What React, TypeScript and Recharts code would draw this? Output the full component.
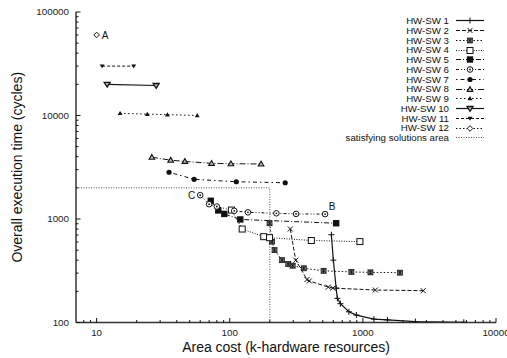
import React from 'react';
import { LineChart, Line, XAxis, YAxis, Legend, ReferenceDot } from 'recharts';

// [area cost, execution time] pairs
const hwsw1 = [[580, 705], [600, 400], [630, 215], [643, 171], [678, 152], [785, 127], [894, 118], [1210, 108], [1530, 106], [2480, 102], [5730, 100.5]];
const hwsw2 = [[285, 800], [313, 400], [380, 260], [396, 252], [550, 220], [595, 215], [1240, 206], [2840, 203]];
const hwsw3 = [[199, 910], [208, 605], [217, 500], [247, 400], [275, 367], [297, 354], [360, 334], [507, 316], [820, 308], [1140, 305], [1900, 303]];
const hwsw4 = [[103, 1220], [124, 800], [180, 675], [199, 660], [410, 620], [950, 605]];
const hwsw5 = [[72, 1500], [82, 1210], [91, 1120], [120, 990], [630, 910]];
const hwsw6 = [[60, 1700], [70, 1390], [80, 1320], [108, 1200], [137, 1160], [224, 1135], [315, 1120], [520, 1115]];
const hwsw7 = [[35, 2830], [54, 2420], [112, 2290], [261, 2240]];
const hwsw8 = [[26, 3950], [36, 3700], [46, 3600], [73, 3450], [102, 3420], [172, 3400]];
const hwsw9 = [[15, 10500], [24, 10300], [34, 10200], [57, 10000]];
const hwsw10 = [[12, 20000], [28, 19500]];
const hwsw11 = [[11, 30000], [19, 30000]];
const hwsw12 = [[10, 60000]];
const satisfyingArea = [[7, 2000], [200, 2000], [200, 100]];

const notes = [
  { text: 'A', x: 10, y: 60000 },
  { text: 'B', x: 520, y: 1115 },
  { text: 'C', x: 60, y: 1700 },
];

const xDomain = [7, 10000];
const yDomain = [100, 100000];
const xTicks = [8, 9, 10, 20, 30, 40, 50, 60, 70, 80, 90, 100, 200, 300, 400, 500, 600, 700, 800, 900, 1000, 2000, 3000, 4000, 5000, 6000, 7000, 8000, 9000, 10000];
const yTicks = [100, 200, 300, 400, 500, 600, 700, 800, 900, 1000, 2000, 3000, 4000, 5000, 6000, 7000, 8000, 9000, 10000, 20000, 30000, 40000, 50000, 60000, 70000, 80000, 90000, 100000];

const INK = '#111';
const FONT = '"Liberation Sans", Arial, Helvetica, sans-serif';

const series = [
  { name: 'HW-SW 1', data: hwsw1, marker: 'plus', dash: undefined, width: 1.2 },
  { name: 'HW-SW 2', data: hwsw2, marker: 'cross', dash: '4 2', width: 1 },
  { name: 'HW-SW 3', data: hwsw3, marker: 'star', dash: '1.5 2', width: 1 },
  { name: 'HW-SW 4', data: hwsw4, marker: 'box', dash: '1 1.5', width: 1 },
  { name: 'HW-SW 5', data: hwsw5, marker: 'boxFilled', dash: '5 2 1 2', width: 1 },
  { name: 'HW-SW 6', data: hwsw6, marker: 'circleDot', dash: '3 2 1 2 1 2', width: 1 },
  { name: 'HW-SW 7', data: hwsw7, marker: 'circleFilled', dash: '1.5 3 4 3', width: 1 },
  { name: 'HW-SW 8', data: hwsw8, marker: 'triangle', dash: '6 2 1 2', width: 1 },
  { name: 'HW-SW 9', data: hwsw9, marker: 'triangleSmall', dash: '1.5 2.5', width: 1 },
  { name: 'HW-SW 10', data: hwsw10, marker: 'triangleDown', dash: undefined, width: 1.2 },
  { name: 'HW-SW 11', data: hwsw11, marker: 'triangleDownSmall', dash: '3 2', width: 1 },
  { name: 'HW-SW 12', data: hwsw12, marker: 'diamond', dash: '1.5 2', width: 1 },
  { name: 'satisfying solutions area', data: satisfyingArea, marker: null, dash: '1 1.5', width: 1 },
];

function Marker({ kind, cx, cy }: { kind: string; cx: number; cy: number }) {
  switch (kind) {
    case 'plus':
      return <path d={`M${cx - 3},${cy}h6M${cx},${cy - 3}v6`} stroke={INK} strokeWidth={1} fill="none" />;
    case 'cross':
      return <path d={`M${cx - 2.5},${cy - 2.5}l5,5M${cx - 2.5},${cy + 2.5}l5,-5`} stroke={INK} strokeWidth={1} fill="none" />;
    case 'star':
      return (
        <g>
          <rect x={cx - 2.5} y={cy - 2.5} width={5} height={5} fill="#777" stroke={INK} strokeWidth={0.7} />
          <path d={`M${cx - 2.5},${cy - 2.5}l5,5M${cx - 2.5},${cy + 2.5}l5,-5M${cx},${cy - 2.5}v5`} stroke={INK} strokeWidth={0.8} />
        </g>
      );
    case 'box':
      return <rect x={cx - 3} y={cy - 3} width={6} height={6} fill="#fff" stroke={INK} strokeWidth={1} />;
    case 'boxFilled':
      return <rect x={cx - 3.2} y={cy - 3.2} width={6.4} height={6.4} fill={INK} />;
    case 'circleDot':
      return (
        <g>
          <circle cx={cx} cy={cy} r={2.8} fill="#fff" stroke={INK} strokeWidth={1} />
          <circle cx={cx} cy={cy} r={0.9} fill={INK} />
        </g>
      );
    case 'circleFilled':
      return <circle cx={cx} cy={cy} r={2.6} fill={INK} />;
    case 'triangle':
      return <path d={`M${cx},${cy - 2.8}L${cx + 2.8},${cy + 2}L${cx - 2.8},${cy + 2}Z`} fill="#bbb" stroke={INK} strokeWidth={1.1} />;
    case 'triangleSmall':
      return <path d={`M${cx},${cy - 2.4}L${cx + 2.4},${cy + 1.8}L${cx - 2.4},${cy + 1.8}Z`} fill={INK} />;
    case 'triangleDown':
      return <path d={`M${cx},${cy + 2.8}L${cx + 3},${cy - 2}L${cx - 3},${cy - 2}Z`} fill="#bbb" stroke={INK} strokeWidth={1.3} />;
    case 'triangleDownSmall':
      return <path d={`M${cx},${cy + 2.2}L${cx + 2.5},${cy - 1.7}L${cx - 2.5},${cy - 1.7}Z`} fill={INK} />;
    case 'diamond':
      return <path d={`M${cx},${cy - 2.8}L${cx + 2.8},${cy}L${cx},${cy + 2.8}L${cx - 2.8},${cy}Z`} fill="#fff" stroke={INK} strokeWidth={1} />;
    default:
      return null;
  }
}

const isDecade = (v: number) => Math.abs(Math.log10(v) - Math.round(Math.log10(v))) < 1e-6;
const tickLen = (v: number) => (isDecade(v) ? 4.5 : 2.5);
const LABEL_GAP = 7;

const BottomTick = ({ x, y, payload }: any) => {
  const v = payload.value;
  const axisY = y - LABEL_GAP;
  return (
    <g>
      <line x1={x} x2={x} y1={axisY} y2={axisY - tickLen(v)} stroke={INK} strokeWidth={1} />
      {isDecade(v) && (
        <text x={x} y={y} dy="0.71em" textAnchor="middle" fontSize={9.8} fill="#222" fontFamily={FONT}>
          {v}
        </text>
      )}
    </g>
  );
};

const TopTick = ({ x, y, payload }: any) => (
  <line x1={x} x2={x} y1={y} y2={y + tickLen(payload.value)} stroke={INK} strokeWidth={1} />
);

const LeftTick = ({ x, y, payload }: any) => {
  const v = payload.value;
  const axisX = x + LABEL_GAP;
  return (
    <g>
      <line x1={axisX} x2={axisX + tickLen(v)} y1={y} y2={y} stroke={INK} strokeWidth={1} />
      {isDecade(v) && (
        <text x={x} y={y} dy="0.35em" textAnchor="end" fontSize={9.8} fill="#222" fontFamily={FONT}>
          {v}
        </text>
      )}
    </g>
  );
};

const RightTick = ({ x, y, payload }: any) => (
  <line x1={x} x2={x - tickLen(payload.value)} y1={y} y2={y} stroke={INK} strokeWidth={1} />
);

const noteShift: Record<string, [number, number]> = { A: [8.5, 0], B: [7, -8], C: [-8.5, 0] };

const renderNote = (props: any) => {
  const { viewBox, value } = props;
  const [dx, dy] = noteShift[value] || [0, 0];
  return (
    <text x={viewBox.x + dx} y={viewBox.y + dy} dy="0.36em" textAnchor="middle" fontSize={10} fill={INK} fontFamily={FONT}>
      {value}
    </text>
  );
};

const renderLegend = () => (
  <div style={{ fontSize: 9.7, color: INK, lineHeight: '9.75px', fontFamily: FONT }}>
    {series.map((s) => (
      <div key={s.name} style={{ display: 'flex', justifyContent: 'flex-end', alignItems: 'center', height: 9.75 }}>
        <span style={{ whiteSpace: 'nowrap' }}>{s.name}</span>
        <svg width={28} height={9} style={{ marginLeft: 7, overflow: 'visible' }}>
          <line x1={0} x2={28} y1={4.5} y2={4.5} stroke={s.marker ? INK : '#555'} strokeWidth={s.width} strokeDasharray={s.dash} />
          {s.marker && <Marker kind={s.marker} cx={14} cy={4.5} />}
        </svg>
      </div>
    ))}
  </div>
);

const border = { stroke: '#333', strokeWidth: 1.5 };

export default function App() {
  return (
    <div style={{ width: 507, height: 358, fontFamily: FONT }}>
      <style>{'body{margin:0}'}</style>
      <LineChart width={507} height={358} margin={{ top: 12, right: 11, bottom: 0, left: 0 }}>
        <XAxis
          dataKey="x"
          type="number"
          scale="log"
          domain={xDomain}
          allowDataOverflow
          ticks={xTicks}
          interval={0}
          tickLine={false}
          tickSize={0}
          tickMargin={LABEL_GAP}
          height={35.5}
          axisLine={border}
          tick={BottomTick}
          label={{ value: 'Area cost (k-hardware resources)', position: 'insideBottom', offset: 6.5, fontSize: 14, fill: INK }}
        />
        <XAxis
          xAxisId="top"
          orientation="top"
          dataKey="x"
          type="number"
          scale="log"
          domain={xDomain}
          allowDataOverflow
          ticks={xTicks}
          interval={0}
          tickLine={false}
          tickSize={0}
          tickMargin={0}
          height={0}
          axisLine={border}
          tick={TopTick}
        />
        <YAxis
          type="number"
          scale="log"
          domain={yDomain}
          allowDataOverflow
          ticks={yTicks}
          interval={0}
          tickLine={false}
          tickSize={0}
          tickMargin={LABEL_GAP}
          width={76}
          axisLine={border}
          tick={LeftTick}
          label={{
            value: 'Overall execution time (cycles)',
            angle: -90,
            position: 'insideLeft',
            offset: 17,
            fontSize: 14,
            fill: INK,
            style: { textAnchor: 'middle' },
          }}
        />
        <YAxis
          yAxisId="right"
          orientation="right"
          type="number"
          scale="log"
          domain={yDomain}
          allowDataOverflow
          ticks={yTicks}
          interval={0}
          tickLine={false}
          tickSize={0}
          tickMargin={0}
          width={0}
          axisLine={border}
          tick={RightTick}
        />
        {series.map((s) => (
          <Line
            key={s.name}
            name={s.name}
            data={s.data.map(([x, y]) => ({ x, y }))}
            dataKey="y"
            type="linear"
            stroke={s.marker ? INK : '#555'}
            strokeWidth={s.width}
            strokeDasharray={s.dash}
            isAnimationActive={false}
            activeDot={false}
            dot={
              s.marker
                ? (p: any) => <Marker key={`${s.name}-${p.index}`} kind={s.marker as string} cx={p.cx} cy={p.cy} />
                : false
            }
          />
        ))}
        {notes.map((n) => (
          <ReferenceDot key={n.text} x={n.x} y={n.y} r={0} stroke="none" fill="none" label={{ value: n.text, content: renderNote }} />
        ))}
        <Legend
          layout="vertical"
          align="center"
          verticalAlign="middle"
          content={renderLegend}
          wrapperStyle={{ left: 250, top: 16, width: 234 }}
        />
      </LineChart>
    </div>
  );
}
